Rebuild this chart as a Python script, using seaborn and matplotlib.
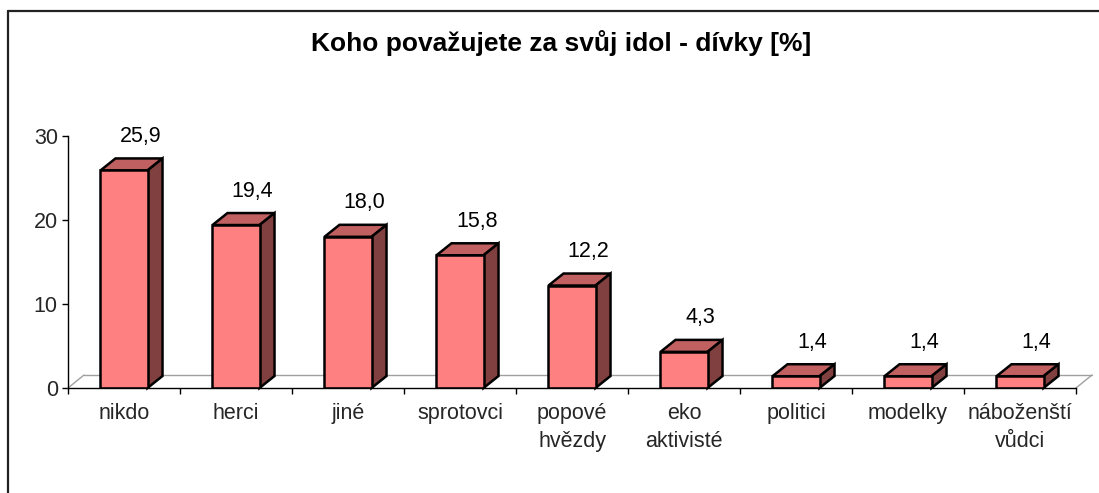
import numpy as np
import pandas as pd
import matplotlib
matplotlib.use("Agg")
import matplotlib.pyplot as plt
import seaborn as sns
from matplotlib.patches import Polygon
from matplotlib.lines import Line2D

categories = ["nikdo", "herci", "jiné", "sprotovci", "popové\nhvězdy",
              "eko\naktivisté", "politici", "modelky", "náboženští\nvůdci"]
values = [25.9, 19.4, 18.0, 15.8, 12.2, 4.3, 1.4, 1.4, 1.4]
yticks = [0, 10, 20, 30]
title = "Koho považujete za svůj idol - dívky [%]"

sns.set_theme(style="white")
plt.rcParams["font.family"] = ["Liberation Sans", "DejaVu Sans"]

W, H = 1099, 493
FS = 15.5
fig = plt.figure(figsize=(W / 100, H / 100), dpi=100)
fig.patch.set_facecolor("white")
ax = fig.add_axes([68 / W, 105 / H, 1008 / W, 252 / H])

df = pd.DataFrame({"cat": categories, "val": values})
sns.barplot(data=df, x="cat", y="val", color="#FF8080", saturation=1,
            width=0.42, edgecolor="black", linewidth=1.8, ax=ax, zorder=3)

ax.set_xlim(-0.5, len(categories) - 0.5)
ax.set_ylim(0, 30)

# pixel -> data offsets for 3D depth
def px_to_data(dxp, dyp):
    o = ax.transData.transform((0, 0))
    p = ax.transData.inverted().transform((o[0] + dxp, o[1] + dyp))
    return p[0], p[1]

bdx, bdy = px_to_data(15, 12)
fdx, fdy = px_to_data(16, 13)

# floor
xl, xr = ax.get_xlim()
floor_kw = dict(color="#A0A0A0", lw=1.0, zorder=1, clip_on=False)
ax.plot([xl + fdx, xr + fdx], [fdy, fdy], **floor_kw)
ax.plot([xl, xl + fdx], [0, fdy], **floor_kw)
ax.plot([xr, xr + fdx], [0, fdy], **floor_kw)

# 3D faces
for p in list(ax.patches):
    x0, w, h = p.get_x(), p.get_width(), p.get_height()
    top = [(x0, h), (x0 + w, h), (x0 + w + bdx, h + bdy), (x0 + bdx, h + bdy)]
    side = [(x0 + w, 0), (x0 + w, h), (x0 + w + bdx, h + bdy), (x0 + w + bdx, bdy)]
    ax.add_patch(Polygon(top, closed=True, facecolor="#C06060", edgecolor="black",
                         lw=1.8, zorder=2, clip_on=False, joinstyle="miter"))
    ax.add_patch(Polygon(side, closed=True, facecolor="#804040", edgecolor="black",
                         lw=1.8, zorder=2, clip_on=False, joinstyle="miter"))

# value labels
for i, v in enumerate(values):
    ax.annotate(f"{v:.1f}".replace(".", ","), (i, v), xytext=(12, 24.5),
                textcoords="offset points", ha="center", va="center",
                fontsize=FS, color="black", zorder=5, annotation_clip=False)

# axes styling
for s in ["top", "right"]:
    ax.spines[s].set_visible(False)
for s in ["left", "bottom"]:
    ax.spines[s].set_color("black")
    ax.spines[s].set_linewidth(1.0)
    ax.spines[s].set_zorder(4)

ax.set_yticks(yticks)
ax.set_yticklabels([str(t) for t in yticks])
ax.tick_params(axis="y", which="major", direction="out", length=4.3, width=1,
               color="black", labelsize=FS, pad=3, left=True)
ax.set_xticks(range(len(categories)))
ax.set_xticklabels(categories, linespacing=1.42)
ax.set_xticks(np.arange(-0.5, len(categories), 1), minor=True)
ax.tick_params(axis="x", which="major", length=0, labelsize=FS, pad=11)
ax.tick_params(axis="x", which="minor", direction="out", length=4.3, width=1,
               color="black", bottom=True)
ax.set_xlabel("")
ax.set_ylabel("")
ax.grid(False)

fig.text(561 / W, 1 - 43 / H, title, ha="center", va="center",
         fontsize=19, fontweight="bold", color="black")

# outer frame (partially visible)
fig.add_artist(Line2D([8 / W, 1.0], [1 - 11 / H, 1 - 11 / H], color="#222222",
                      lw=1.6, transform=fig.transFigure))
fig.add_artist(Line2D([8 / W, 8 / W], [1 - 11 / H, 0.0], color="#222222",
                      lw=1.6, transform=fig.transFigure))

fig.savefig("out.png", dpi=100, facecolor="white")
